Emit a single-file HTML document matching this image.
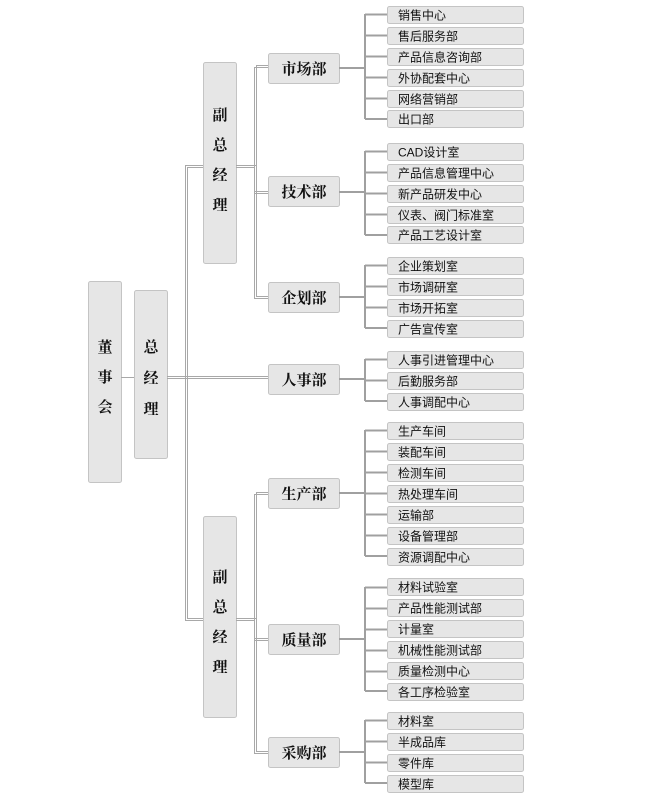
<!DOCTYPE html>
<html><head><meta charset="utf-8">
<style>
html,body{margin:0;padding:0;background:#fff;}
svg{display:block;}
.b{fill:#e6e6e6;stroke:#c4c4c4;stroke-width:1;}
.l{stroke:#a8a8a8;stroke-width:1;fill:none;}
.s{stroke:#a0a0a0;stroke-width:2;fill:none;}
.m{font-family:"Liberation Serif","Noto Serif CJK SC",serif;font-weight:bold;font-size:15px;fill:#111;}
.t{font-family:"Liberation Sans","Noto Sans CJK SC",sans-serif;font-size:12px;fill:#111;}
</style></head><body>
<svg width="645" height="798" xmlns="http://www.w3.org/2000/svg">
<!-- main boxes -->
<rect class="b" x="88.5" y="281.5" width="33" height="201" rx="2"/>
<text class="m" x="105" y="352" text-anchor="middle">董</text>
<text class="m" x="105" y="382" text-anchor="middle">事</text>
<text class="m" x="105" y="412" text-anchor="middle">会</text>
<rect class="b" x="134.5" y="290.5" width="33" height="168" rx="2"/>
<text class="m" x="151" y="352" text-anchor="middle">总</text>
<text class="m" x="151" y="383" text-anchor="middle">经</text>
<text class="m" x="151" y="414" text-anchor="middle">理</text>
<rect class="b" x="203.5" y="62.5" width="33" height="201" rx="2"/>
<text class="m" x="220" y="120" text-anchor="middle">副</text>
<text class="m" x="220" y="150" text-anchor="middle">总</text>
<text class="m" x="220" y="180" text-anchor="middle">经</text>
<text class="m" x="220" y="210" text-anchor="middle">理</text>
<rect class="b" x="203.5" y="516.5" width="33" height="201" rx="2"/>
<text class="m" x="220" y="582" text-anchor="middle">副</text>
<text class="m" x="220" y="612" text-anchor="middle">总</text>
<text class="m" x="220" y="642" text-anchor="middle">经</text>
<text class="m" x="220" y="672" text-anchor="middle">理</text>
<!-- connectors left -->
<line class="l" x1="121" y1="377.5" x2="134" y2="377.5"/>
<line class="l" x1="167" y1="376.5" x2="268" y2="376.5"/>
<line class="l" x1="167" y1="378.5" x2="268" y2="378.5"/>
<line class="l" x1="185.5" y1="165" x2="185.5" y2="620"/>
<line class="l" x1="187.5" y1="167" x2="187.5" y2="618"/>
<line class="l" x1="185" y1="165.5" x2="203" y2="165.5"/>
<line class="l" x1="187" y1="167.5" x2="203" y2="167.5"/>
<line class="l" x1="185" y1="620.5" x2="203" y2="620.5"/>
<line class="l" x1="187" y1="618.5" x2="203" y2="618.5"/>
<line class="l" x1="236" y1="165.5" x2="256" y2="165.5"/>
<line class="l" x1="236" y1="167.5" x2="254" y2="167.5"/>
<line class="l" x1="236" y1="620.5" x2="254" y2="620.5"/>
<line class="l" x1="236" y1="618.5" x2="256" y2="618.5"/>
<!-- upper dept vertical double -->
<line class="l" x1="254.5" y1="67" x2="254.5" y2="298"/>
<line class="l" x1="256.5" y1="65" x2="256.5" y2="296"/>
<line class="l" x1="254" y1="67.5" x2="268" y2="67.5"/>
<line class="l" x1="256" y1="65.5" x2="268" y2="65.5"/>
<line class="l" x1="254" y1="191.5" x2="268" y2="191.5"/>
<line class="l" x1="254" y1="193.5" x2="268" y2="193.5"/>
<line class="l" x1="254" y1="298.5" x2="268" y2="298.5"/>
<line class="l" x1="256" y1="296.5" x2="268" y2="296.5"/>
<!-- lower dept vertical double -->
<line class="l" x1="254.5" y1="494" x2="254.5" y2="753"/>
<line class="l" x1="256.5" y1="492" x2="256.5" y2="751"/>
<line class="l" x1="254" y1="494.5" x2="268" y2="494.5"/>
<line class="l" x1="256" y1="492.5" x2="268" y2="492.5"/>
<line class="l" x1="254" y1="638.5" x2="268" y2="638.5"/>
<line class="l" x1="254" y1="640.5" x2="268" y2="640.5"/>
<line class="l" x1="254" y1="753.5" x2="268" y2="753.5"/>
<line class="l" x1="256" y1="751.5" x2="268" y2="751.5"/>
<!-- departments -->
<g>
<rect class="b" x="268.5" y="53.5" width="71" height="30" rx="2"/><text class="m" x="304" y="74" text-anchor="middle">市场部</text>
<rect class="b" x="268.5" y="176.5" width="71" height="30" rx="2"/><text class="m" x="304" y="197" text-anchor="middle">技术部</text>
<rect class="b" x="268.5" y="282.5" width="71" height="30" rx="2"/><text class="m" x="304" y="303" text-anchor="middle">企划部</text>
<rect class="b" x="268.5" y="364.5" width="71" height="30" rx="2"/><text class="m" x="304" y="385" text-anchor="middle">人事部</text>
<rect class="b" x="268.5" y="478.5" width="71" height="30" rx="2"/><text class="m" x="304" y="499" text-anchor="middle">生产部</text>
<rect class="b" x="268.5" y="624.5" width="71" height="30" rx="2"/><text class="m" x="304" y="645" text-anchor="middle">质量部</text>
<rect class="b" x="268.5" y="737.5" width="71" height="30" rx="2"/><text class="m" x="304" y="758" text-anchor="middle">采购部</text>
</g>
<!-- dept to leaf stubs -->
<line class="s" x1="339" y1="68" x2="365" y2="68"/>
<line class="s" x1="339" y1="192" x2="365" y2="192"/>
<line class="s" x1="339" y1="297" x2="365" y2="297"/>
<line class="s" x1="339" y1="379" x2="365" y2="379"/>
<line class="s" x1="339" y1="493" x2="365" y2="493"/>
<line class="s" x1="339" y1="639" x2="365" y2="639"/>
<line class="s" x1="339" y1="752" x2="365" y2="752"/>
<!-- leaf vertical lines -->
<line class="s" x1="365" y1="14" x2="365" y2="119"/>
<line class="s" x1="365" y1="151" x2="365" y2="235"/>
<line class="s" x1="365" y1="265" x2="365" y2="328"/>
<line class="s" x1="365" y1="359" x2="365" y2="401"/>
<line class="s" x1="365" y1="430" x2="365" y2="556"/>
<line class="s" x1="365" y1="587" x2="365" y2="691"/>
<line class="s" x1="365" y1="720" x2="365" y2="783"/>
<g id="leaves">
<!-- group 1 -->
<line class="s" x1="365" y1="14.5" x2="387" y2="14.5"/><rect class="b" x="387.5" y="6.5" width="136" height="17" rx="2"/><text class="t" x="398" y="19.5">销售中心</text>
<line class="s" x1="365" y1="35.5" x2="387" y2="35.5"/><rect class="b" x="387.5" y="27.5" width="136" height="17" rx="2"/><text class="t" x="398" y="40.5">售后服务部</text>
<line class="s" x1="365" y1="56.5" x2="387" y2="56.5"/><rect class="b" x="387.5" y="48.5" width="136" height="17" rx="2"/><text class="t" x="398" y="61.5">产品信息咨询部</text>
<line class="s" x1="365" y1="77.5" x2="387" y2="77.5"/><rect class="b" x="387.5" y="69.5" width="136" height="17" rx="2"/><text class="t" x="398" y="82.5">外协配套中心</text>
<line class="s" x1="365" y1="98.5" x2="387" y2="98.5"/><rect class="b" x="387.5" y="90.5" width="136" height="17" rx="2"/><text class="t" x="398" y="103.5">网络营销部</text>
<line class="s" x1="365" y1="119" x2="387" y2="119"/><rect class="b" x="387.5" y="110.5" width="136" height="17" rx="2"/><text class="t" x="398" y="123.5">出口部</text>
<!-- group 2 -->
<line class="s" x1="365" y1="151.5" x2="387" y2="151.5"/><rect class="b" x="387.5" y="143.5" width="136" height="17" rx="2"/><text class="t" x="398" y="156.5">CAD设计室</text>
<line class="s" x1="365" y1="172.5" x2="387" y2="172.5"/><rect class="b" x="387.5" y="164.5" width="136" height="17" rx="2"/><text class="t" x="398" y="177.5">产品信息管理中心</text>
<line class="s" x1="365" y1="193.5" x2="387" y2="193.5"/><rect class="b" x="387.5" y="185.5" width="136" height="17" rx="2"/><text class="t" x="398" y="198.5">新产品研发中心</text>
<line class="s" x1="365" y1="214.5" x2="387" y2="214.5"/><rect class="b" x="387.5" y="206.5" width="136" height="17" rx="2"/><text class="t" x="398" y="219.5">仪表、阀门标准室</text>
<line class="s" x1="365" y1="235" x2="387" y2="235"/><rect class="b" x="387.5" y="226.5" width="136" height="17" rx="2"/><text class="t" x="398" y="239.5">产品工艺设计室</text>
<!-- group 3 -->
<line class="s" x1="365" y1="265.5" x2="387" y2="265.5"/><rect class="b" x="387.5" y="257.5" width="136" height="17" rx="2"/><text class="t" x="398" y="270.5">企业策划室</text>
<line class="s" x1="365" y1="286.5" x2="387" y2="286.5"/><rect class="b" x="387.5" y="278.5" width="136" height="17" rx="2"/><text class="t" x="398" y="291.5">市场调研室</text>
<line class="s" x1="365" y1="307.5" x2="387" y2="307.5"/><rect class="b" x="387.5" y="299.5" width="136" height="17" rx="2"/><text class="t" x="398" y="312.5">市场开拓室</text>
<line class="s" x1="365" y1="328" x2="387" y2="328"/><rect class="b" x="387.5" y="320.5" width="136" height="17" rx="2"/><text class="t" x="398" y="333.5">广告宣传室</text>
<!-- group 4 -->
<line class="s" x1="365" y1="359.5" x2="387" y2="359.5"/><rect class="b" x="387.5" y="351.5" width="136" height="17" rx="2"/><text class="t" x="398" y="364.5">人事引进管理中心</text>
<line class="s" x1="365" y1="380.5" x2="387" y2="380.5"/><rect class="b" x="387.5" y="372.5" width="136" height="17" rx="2"/><text class="t" x="398" y="385.5">后勤服务部</text>
<line class="s" x1="365" y1="401" x2="387" y2="401"/><rect class="b" x="387.5" y="393.5" width="136" height="17" rx="2"/><text class="t" x="398" y="406.5">人事调配中心</text>
<!-- group 5 -->
<line class="s" x1="365" y1="430.5" x2="387" y2="430.5"/><rect class="b" x="387.5" y="422.5" width="136" height="17" rx="2"/><text class="t" x="398" y="435.5">生产车间</text>
<line class="s" x1="365" y1="451.5" x2="387" y2="451.5"/><rect class="b" x="387.5" y="443.5" width="136" height="17" rx="2"/><text class="t" x="398" y="456.5">装配车间</text>
<line class="s" x1="365" y1="472.5" x2="387" y2="472.5"/><rect class="b" x="387.5" y="464.5" width="136" height="17" rx="2"/><text class="t" x="398" y="477.5">检测车间</text>
<line class="s" x1="365" y1="493.5" x2="387" y2="493.5"/><rect class="b" x="387.5" y="485.5" width="136" height="17" rx="2"/><text class="t" x="398" y="498.5">热处理车间</text>
<line class="s" x1="365" y1="514.5" x2="387" y2="514.5"/><rect class="b" x="387.5" y="506.5" width="136" height="17" rx="2"/><text class="t" x="398" y="519.5">运输部</text>
<line class="s" x1="365" y1="535.5" x2="387" y2="535.5"/><rect class="b" x="387.5" y="527.5" width="136" height="17" rx="2"/><text class="t" x="398" y="540.5">设备管理部</text>
<line class="s" x1="365" y1="556" x2="387" y2="556"/><rect class="b" x="387.5" y="548.5" width="136" height="17" rx="2"/><text class="t" x="398" y="561.5">资源调配中心</text>
<!-- group 6 -->
<line class="s" x1="365" y1="587.5" x2="387" y2="587.5"/><rect class="b" x="387.5" y="578.5" width="136" height="17" rx="2"/><text class="t" x="398" y="591.5">材料试验室</text>
<line class="s" x1="365" y1="608.5" x2="387" y2="608.5"/><rect class="b" x="387.5" y="599.5" width="136" height="17" rx="2"/><text class="t" x="398" y="612.5">产品性能测试部</text>
<line class="s" x1="365" y1="629.5" x2="387" y2="629.5"/><rect class="b" x="387.5" y="620.5" width="136" height="17" rx="2"/><text class="t" x="398" y="633.5">计量室</text>
<line class="s" x1="365" y1="650.5" x2="387" y2="650.5"/><rect class="b" x="387.5" y="641.5" width="136" height="17" rx="2"/><text class="t" x="398" y="654.5">机械性能测试部</text>
<line class="s" x1="365" y1="671.5" x2="387" y2="671.5"/><rect class="b" x="387.5" y="662.5" width="136" height="17" rx="2"/><text class="t" x="398" y="675.5">质量检测中心</text>
<line class="s" x1="365" y1="691" x2="387" y2="691"/><rect class="b" x="387.5" y="683.5" width="136" height="17" rx="2"/><text class="t" x="398" y="696.5">各工序检验室</text>
<!-- group 7 -->
<line class="s" x1="365" y1="720.5" x2="387" y2="720.5"/><rect class="b" x="387.5" y="712.5" width="136" height="17" rx="2"/><text class="t" x="398" y="725.5">材料室</text>
<line class="s" x1="365" y1="741.5" x2="387" y2="741.5"/><rect class="b" x="387.5" y="733.5" width="136" height="17" rx="2"/><text class="t" x="398" y="746.5">半成品库</text>
<line class="s" x1="365" y1="762.5" x2="387" y2="762.5"/><rect class="b" x="387.5" y="754.5" width="136" height="17" rx="2"/><text class="t" x="398" y="767.5">零件库</text>
<line class="s" x1="365" y1="783" x2="387" y2="783"/><rect class="b" x="387.5" y="775.5" width="136" height="17" rx="2"/><text class="t" x="398" y="788.5">模型库</text>
</g>
</svg>
</body></html>
